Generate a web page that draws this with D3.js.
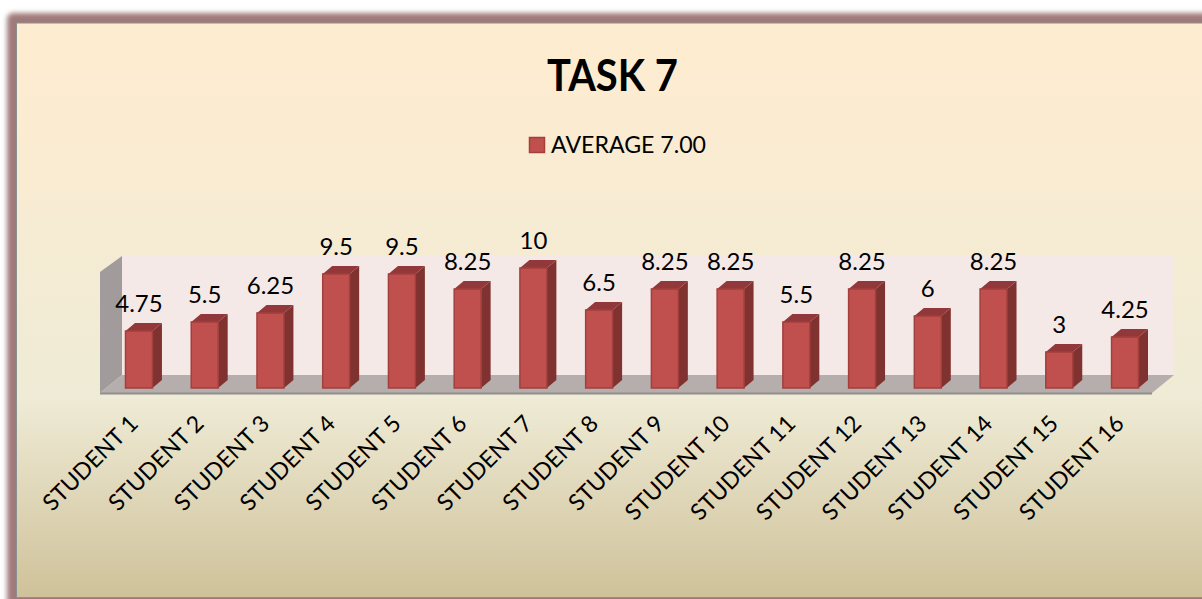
<!DOCTYPE html>
<html>
  <head>
    <title>TASK 7</title>
    <script src="https://d3js.org/d3.v7.min.js"></script>
    <style>
      html, body { margin: 0; padding: 0; background: #fff; overflow: hidden; }
      text { font-family: Lato, "Open Sans", sans-serif; fill: #000; }
    </style>
  </head>
  <body>
    <div id="chart"></div>
    <script>
      // Data
      var students = ["STUDENT 1", "STUDENT 2", "STUDENT 3", "STUDENT 4", "STUDENT 5", "STUDENT 6", "STUDENT 7", "STUDENT 8",
        "STUDENT 9", "STUDENT 10", "STUDENT 11", "STUDENT 12", "STUDENT 13", "STUDENT 14", "STUDENT 15", "STUDENT 16"];
      var scores = [4.75, 5.5, 6.25, 9.5, 9.5, 8.25, 10, 6.5, 8.25, 8.25, 5.5, 8.25, 6, 8.25, 3, 4.25];
      var titleText = "TASK 7";
      var legendText = "AVERAGE 7.00";

      var width = 1202, height = 599;
      var depthX = 9.5, depthY = 8;   // 3d offset of the bars
      var floorY = 393, baseY = 388;

      var svg = d3.select("#chart").append("svg")
        .attr("width", width)
        .attr("height", height)
        .style("display", "block");

      var defs = svg.append("defs");
      var grad = defs.append("linearGradient")
        .attr("id", "panelFill")
        .attr("x1", 0).attr("y1", 0).attr("x2", 0).attr("y2", 1);
      grad.append("stop").attr("offset", "0%").attr("stop-color", "#ffecd0");
      grad.append("stop").attr("offset", "65%").attr("stop-color", "#efebd6");
      grad.append("stop").attr("offset", "100%").attr("stop-color", "#cfc29a");

      defs.append("filter").attr("id", "blur")
        .attr("x", "-5%").attr("y", "-5%").attr("width", "110%").attr("height", "110%")
        .append("feGaussianBlur").attr("stdDeviation", 2.5);

      // Frame and panel
      svg.append("rect")
        .attr("x", 7).attr("y", 13).attr("width", 1240).attr("height", 620)
        .attr("rx", 6)
        .attr("fill", "#a07a7a")
        .attr("filter", "url(#blur)");
      svg.append("rect")
        .attr("x", 16.5).attr("y", 23).attr("width", 1230).attr("height", 574.5)
        .attr("fill", "url(#panelFill)")
        .attr("stroke", "#8a8f8f")
        .attr("stroke-width", 1);

      // Scales
      var x = d3.scaleBand()
        .domain(students)
        .range([125.5, 1138.5])
        .paddingInner(0.59)
        .paddingOuter(0);

      var y = d3.scaleLinear()
        .domain([0, 10])
        .range([baseY, 268]);

      // Walls and floor
      var wallLeft = 122, wallRight = 1174, wallTop = 256, wallBottom = 375;
      var frontLeft = 100, frontRight = 1152;

      svg.append("polygon")
        .attr("points", [[wallLeft, wallTop], [wallRight, wallTop], [wallRight, wallBottom], [wallLeft, wallBottom]].join(" "))
        .attr("fill", "#f5e9e8");
      svg.append("polygon")
        .attr("points", [[frontLeft, 272], [wallLeft, wallTop], [wallLeft, wallBottom], [frontLeft, floorY]].join(" "))
        .attr("fill", "#a19c9b");
      svg.append("polygon")
        .attr("points", [[frontLeft, floorY], [wallLeft, wallBottom], [wallRight, wallBottom], [frontRight, floorY]].join(" "))
        .attr("fill", "#b6aeac");
      svg.append("line")
        .attr("x1", frontLeft).attr("x2", frontRight)
        .attr("y1", floorY + 0.5).attr("y2", floorY + 0.5)
        .attr("stroke", "#8f8f8b")
        .attr("stroke-width", 2);

      // Bars
      var bars = svg.selectAll("g.bar")
        .data(scores)
        .enter()
        .append("g")
        .attr("class", "bar");

      function fx(d, i) { return x(students[i]); }

      bars.append("path")   // side
        .attr("d", function(d, i) {
          var r = fx(d, i) + x.bandwidth();
          return "M" + r + "," + y(d) + "l" + depthX + "," + (-depthY) + "L" + (r + depthX) + "," + (baseY - depthY) + "L" + r + "," + baseY + "Z";
        })
        .attr("fill", "#7f3230");

      bars.append("path")   // top
        .attr("d", function(d, i) {
          var l = fx(d, i), w = x.bandwidth();
          return "M" + l + "," + y(d) + "l" + depthX + "," + (-depthY) + "h" + w + "l" + (-depthX) + "," + depthY + "Z";
        })
        .attr("fill", "#93383a");

      bars.append("rect")   // front
        .attr("x", fx)
        .attr("y", function(d) { return y(d); })
        .attr("width", x.bandwidth())
        .attr("height", function(d) { return baseY - y(d); })
        .attr("fill", "#c0504d")
        .attr("stroke", "#a33f3d")
        .attr("stroke-width", 1.5);

      // Value labels
      svg.selectAll("text.value")
        .data(scores)
        .enter()
        .append("text")
        .attr("class", "value")
        .attr("x", function(d, i) { return fx(d, i) + x.bandwidth() / 2; })
        .attr("y", function(d) { return y(d) - 19; })
        .attr("text-anchor", "middle")
        .style("font-size", "24px")
        .text(function(d) { return d; });

      // Category axis
      var axis = svg.append("g")
        .attr("transform", "translate(0," + (floorY + 18) + ")")
        .call(d3.axisBottom(x).tickSize(0).tickPadding(0));
      axis.select(".domain").remove();
      axis.selectAll("text")
        .attr("dy", 0)
        .attr("y", 0)
        .attr("x", 0)
        .attr("text-anchor", "end")
        .attr("transform", "translate(0.5,14) rotate(-45)")
        .style("font-size", "23px")
        .style("font-family", "Lato, 'Open Sans', sans-serif");

      // Title
      svg.append("text")
        .attr("x", 612.5)
        .attr("y", 91)
        .attr("text-anchor", "middle")
        .attr("textLength", 131)
        .attr("lengthAdjust", "spacingAndGlyphs")
        .style("font-size", "43px")
        .style("font-weight", "bold")
        .text(titleText);

      // Legend
      svg.append("rect")
        .attr("x", 529.5).attr("y", 137.5)
        .attr("width", 15).attr("height", 15)
        .attr("fill", "#c0504d")
        .attr("stroke", "#a33f3d")
        .attr("stroke-width", 1.5);
      svg.append("text")
        .attr("x", 551)
        .attr("y", 153)
        .attr("textLength", 155)
        .attr("lengthAdjust", "spacingAndGlyphs")
        .style("font-size", "24px")
        .text(legendText);
    </script>
  </body>
</html>
